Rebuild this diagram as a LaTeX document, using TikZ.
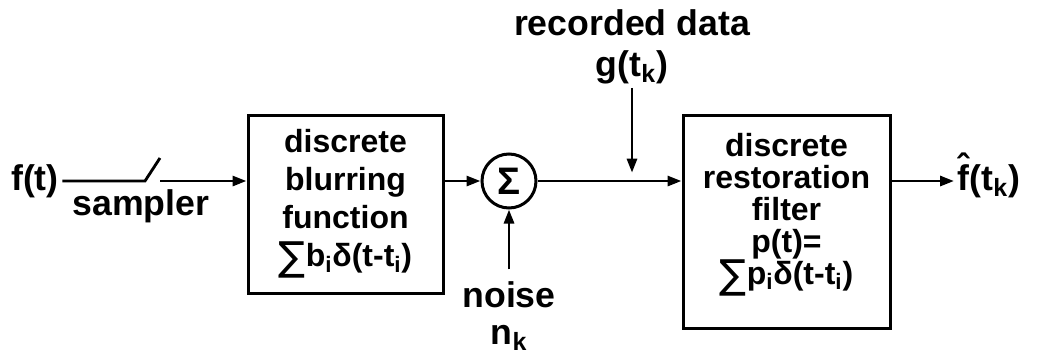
\documentclass[tikz,border=0pt]{standalone}
\usepackage{fontspec}
\setmainfont{Liberation Sans}
\newfontfamily\symfont{DejaVu Sans}
\usetikzlibrary{arrows.meta, positioning}
\newcommand{\sumsign}{\raisebox{-0.12em}{\symfont\mdseries\fontsize{24}{24}\selectfont ∑}}
\newcommand{\fhat}{\ooalign{f\cr\hidewidth\raisebox{0.3em}{ˆ}\hidewidth\cr}}
\tikzset{
  blockbox/.style={
    rectangle, draw, line width=1.8pt,
    align=center, inner sep=0pt,
    font=\fontsize{19.2}{22.8}\selectfont\bfseries
  },
  sumnode/.style={
    circle, draw, line width=1.8pt,
    minimum size=32.4pt, inner sep=0pt,
    font=\fontsize{23}{23}\selectfont\bfseries
  },
  lbl/.style={inner sep=2pt, align=center,
    font=\fontsize{21.4}{22.2}\selectfont\bfseries},
  arr/.style={-{Triangle[length=8.4pt,width=6pt]}, line width=1.7pt},
  wire/.style={line width=1.7pt},
}

\begin{document}
\begin{tikzpicture}[x=0.6pt, y=-0.6pt]
  \useasboundingbox (0,0) rectangle (1051,354);

  % Nodes
  \node[lbl] (ft) at (35,181) {f(t)};
  \node[lbl] (sampler) at (141,206) {sampler};
  \node[blockbox, minimum width=117pt, minimum height=106.8pt] (blur) at (345.5,204)
    {discrete\\ blurring\\ function\\ \sumsign b\textsubscript{i}δ(t-t\textsubscript{i})};
  \node[sumnode] (sum) at (509,181) {Σ};
  \node[lbl] (noise) at (509,316) {noise\\ n\textsubscript{k}};
  \node[lbl, font=\fontsize{21.4}{24.6}\selectfont\bfseries] (rec) at (632,47)
    {recorded data\\ g(t\textsubscript{k})};
  \node[blockbox, minimum width=124.2pt, minimum height=127.8pt,
        font=\fontsize{19.2}{19.2}\selectfont\bfseries] (rest) at (786.5,221.5)
    {discrete\\ restoration\\ filter\\ p(t)=\\ \sumsign p\textsubscript{i}δ(t-t\textsubscript{i})\rule[-15pt]{0pt}{1pt}};
  \node[lbl, anchor=west] (fout) at (954,181) {\fhat(t\textsubscript{k})};

  % Sampler switch
  \coordinate (swa) at (145,181);
  \coordinate (swb) at (160,158);
  \coordinate (swc) at (160,181);

  % Arrows
  \draw[wire] (ft) -- (swa) -- (swb);
  \draw[arr] (swc) -- (blur.west |- swc);
  \draw[arr] (blur.east |- sum) -- (sum);
  \draw[arr, shorten <=5pt] (noise) -- (sum);
  \draw[arr] (sum) -- (sum -| rest.west);
  \draw[arr, shorten >=5pt] (rec) -- (rec |- sum);
  \draw[arr] (rest.east |- fout) -- (fout);

\end{tikzpicture}
\end{document}
